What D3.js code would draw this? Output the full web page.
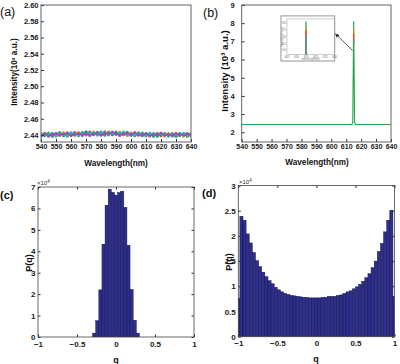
<!DOCTYPE html>
<html>
<head>
<meta charset="utf-8">
<script src="https://cdn.jsdelivr.net/npm/d3@7"></script>
<style>
    body { margin: 0; background: #fff; }
    svg { display: block; font-family: "Liberation Sans", Arial, sans-serif; }
</style>
</head>
<body>
<svg id="chart" width="400" height="364"></svg>
<script>
// ---------- data ----------
// (a) background spectra, 10^3 a.u., sampled every 2.5 nm from 540 to 640
const specWl = d3.range(540, 640.01, 2.5);
const bgS1 = [2.4392, 2.4421, 2.4398, 2.4415, 2.4387, 2.4426, 2.4401, 2.4419, 2.4395, 2.4432, 2.4408, 2.4427, 2.4399, 2.4436, 2.4412, 2.4430, 2.4405, 2.4439, 2.4416, 2.4428, 2.4409, 2.4434, 2.4402, 2.4425, 2.4397, 2.4421, 2.4404, 2.4418, 2.4389, 2.4416, 2.4398, 2.4423, 2.4391, 2.4414, 2.4396, 2.4419, 2.4388, 2.4412, 2.4393, 2.4417, 2.4390];
const bgS2 = [2.4418, 2.4390, 2.4411, 2.4384, 2.4420, 2.4396, 2.4424, 2.4393, 2.4429, 2.4401, 2.4422, 2.4395, 2.4433, 2.4406, 2.4425, 2.4399, 2.4437, 2.4410, 2.4431, 2.4403, 2.4426, 2.4400, 2.4429, 2.4396, 2.4420, 2.4392, 2.4417, 2.4390, 2.4413, 2.4395, 2.4419, 2.4386, 2.4411, 2.4393, 2.4416, 2.4388, 2.4414, 2.4391, 2.4418, 2.4387, 2.4409];
const bgS3 = [2.4401, 2.4410, 2.4383, 2.4419, 2.4405, 2.4393, 2.4428, 2.4409, 2.4412, 2.4397, 2.4435, 2.4414, 2.4420, 2.4402, 2.4438, 2.4418, 2.4424, 2.4408, 2.4441, 2.4420, 2.4415, 2.4431, 2.4411, 2.4398, 2.4427, 2.4408, 2.4396, 2.4424, 2.4402, 2.4410, 2.4392, 2.4421, 2.4404, 2.4389, 2.4418, 2.4400, 2.4395, 2.4415, 2.4386, 2.4404, 2.4412];
const bgS4 = [2.4386, 2.4403, 2.4425, 2.4397, 2.4412, 2.4430, 2.4391, 2.4421, 2.4404, 2.4426, 2.4394, 2.4418, 2.4441, 2.4411, 2.4403, 2.4433, 2.4415, 2.4396, 2.4427, 2.4412, 2.4438, 2.4405, 2.4419, 2.4434, 2.4401, 2.4413, 2.4429, 2.4398, 2.4420, 2.4405, 2.4384, 2.4414, 2.4399, 2.4420, 2.4392, 2.4408, 2.4385, 2.4419, 2.4402, 2.4389, 2.4416];
const bgS5 = [2.4410, 2.4395, 2.4407, 2.4423, 2.4391, 2.4414, 2.4405, 2.4386, 2.4423, 2.4414, 2.4399, 2.4430, 2.4408, 2.4421, 2.4429, 2.4404, 2.4419, 2.4432, 2.4400, 2.4425, 2.4407, 2.4418, 2.4436, 2.4410, 2.4415, 2.4393, 2.4411, 2.4426, 2.4395, 2.4425, 2.4412, 2.4397, 2.4418, 2.4407, 2.4385, 2.4413, 2.4404, 2.4396, 2.4421, 2.4410, 2.4394];
const bgS6 = [2.4397, 2.4414, 2.4389, 2.4406, 2.4418, 2.4399, 2.4413, 2.4427, 2.4397, 2.4406, 2.4419, 2.4404, 2.4415, 2.4393, 2.4417, 2.4424, 2.4398, 2.4421, 2.4413, 2.4436, 2.4417, 2.4395, 2.4415, 2.4421, 2.4406, 2.4431, 2.4400, 2.4409, 2.4417, 2.4387, 2.4406, 2.4403, 2.4425, 2.4397, 2.4409, 2.4394, 2.4422, 2.4405, 2.4397, 2.4419, 2.4401];
const bgColors = ["#e5372c", "#3a6fd3", "#f29a1d", "#27a346", "#25b4c6", "#9a4fb5"];

// (b) spectra with the 615 nm line, 10^3 a.u.
const peakWlCyan   = [540, 613.9, 614.5, 615.1, 615.7, 616.3, 640];
const peakCyan     = [2.43, 2.43, 2.52, 7.15, 2.52, 2.43, 2.43];
const peakWlRed    = [540, 613.7, 614.3, 614.9, 615.5, 616.1, 640];
const peakRed      = [2.43, 2.43, 2.52, 7.45, 2.52, 2.43, 2.43];
const peakWlOrange = [540, 613.9, 614.5, 615.1, 615.7, 616.3, 640];
const peakOrange   = [2.43, 2.43, 2.52, 7.65, 2.52, 2.43, 2.43];
const peakWlGreen  = [540, 613.8, 614.4, 615.0, 615.6, 616.2, 640];
const peakGreen    = [2.43, 2.43, 2.55, 8.1, 2.55, 2.43, 2.43];

const wlTicks = [540, 550, 560, 570, 580, 590, 600, 610, 620, 630, 640];
const aTicks = [2.44, 2.46, 2.48, 2.50, 2.52, 2.54, 2.56, 2.58, 2.60];
const bTicks = [2, 3, 4, 5, 6, 7, 8, 9];
const insetWlTicks = [605, 610, 615, 620, 625, 630];
const insetTicks = [6.0, 6.5, 7.0, 7.5, 8.0];

// (c) histogram, x10^4, bin centres -0.28 .. 0.28
const binsC = [-0.28, -0.24, -0.20, -0.16, -0.12, -0.08, -0.04, 0, 0.04, 0.08, 0.12, 0.16, 0.20, 0.24, 0.28];
const countsC = [0.18, 0.76, 2.2, 4.33, 6.15, 6.9, 6.75, 6.62, 6.74, 6.8, 6.05, 4.28, 2.22, 0.78, 0.18];
const cTicks = [0, 1, 2, 3, 4, 5, 6, 7];

// (d) histogram, x10^4, bin centres -1 .. 1 every 0.04
const binsD = d3.range(-1, 1.0001, 0.04);
const countsD = [0.76,
    2.39, 2.31, 2.04, 1.86, 1.67, 1.51, 1.39, 1.28, 1.19, 1.11, 1.05, 0.98, 0.93,
    0.89, 0.86, 0.84, 0.82, 0.81, 0.80, 0.79, 0.78, 0.78, 0.77, 0.77, 0.77,
    0.77, 0.78, 0.78, 0.80, 0.80, 0.80, 0.82, 0.83, 0.86, 0.89, 0.91, 0.95,
    0.99, 1.04, 1.10, 1.17, 1.25, 1.37, 1.50, 1.69, 1.85, 2.08, 2.31, 2.51,
    0.80];
const dTicks = [0, 0.5, 1, 1.5, 2, 2.5, 3];
const qTicks = [-1, -0.5, 0, 0.5, 1];

const BAR_FILL = "#2d2e8d";
const BAR_EDGE = "#12123f";

// ---------- helpers ----------
const svg = d3.select("#chart");
svg.append("rect").attr("width", 400).attr("height", 364).attr("fill", "#fff");

let clipId = 0;
const addClip = (x, y) => {
    const id = `clip${clipId++}`;
    const [x0, x1] = x.range();
    const [y0, y1] = y.range();
    svg.append("clipPath").attr("id", id)
        .append("rect")
        .attr("x", x0).attr("y", y1)
        .attr("width", x1 - x0).attr("height", y0 - y1);
    return `url(#${id})`;
};

const styleTicks = (g, size, weight) => {
    g.selectAll(".domain").remove();
    g.selectAll("text")
        .attr("font-size", size)
        .attr("font-weight", weight)
        .attr("fill", "#1a1a1a")
        .attr("font-family", "Liberation Sans, Arial, sans-serif");
    g.selectAll("line").attr("stroke", "#333");
};

// Origin style frame used for (a) and (b)
function originFrame(x, y, yTicks, yFmt, yPad) {
    const [x0, x1] = x.range();
    const [y0, y1] = y.range();
    svg.append("g")
        .attr("transform", `translate(0,${y0})`)
        .call(d3.axisBottom(x).tickValues(wlTicks).tickSize(-3).tickPadding(2).tickFormat(d3.format("d")))
        .call(g => styleTicks(g, 7, "bold"));
    svg.append("g")
        .attr("transform", `translate(${x0},0)`)
        .call(d3.axisLeft(y).tickValues(yTicks).tickSize(-3).tickPadding(yPad).tickFormat(yFmt))
        .call(g => styleTicks(g, 7.5, "bold"));
    svg.append("rect")
        .attr("x", x0).attr("y", y1)
        .attr("width", x1 - x0).attr("height", y0 - y1)
        .attr("fill", "none").attr("stroke", "#555").attr("stroke-width", 0.9);
}

// Matlab style frame used for (c) and (d)
function matlabFrame(x, y, yTicks, yFmt) {
    const [x0, x1] = x.range();
    const [y0, y1] = y.range();
    svg.append("g")
        .attr("transform", `translate(0,${y0})`)
        .call(d3.axisBottom(x).tickValues(qTicks).tickSize(-2.5).tickPadding(4).tickFormat(d3.format("")))
        .call(g => styleTicks(g, 8, "bold"));
    svg.append("g")
        .attr("transform", `translate(0,${y1})`)
        .call(d3.axisTop(x).tickValues(qTicks).tickSize(-2.5).tickFormat(""))
        .call(g => styleTicks(g, 8, "bold"));
    svg.append("g")
        .attr("transform", `translate(${x0},0)`)
        .call(d3.axisLeft(y).tickValues(yTicks).tickSize(-2.5).tickPadding(2.5).tickFormat(yFmt))
        .call(g => styleTicks(g, 8, "bold"));
    svg.append("g")
        .attr("transform", `translate(${x1},0)`)
        .call(d3.axisRight(y).tickValues(yTicks).tickSize(-2.5).tickFormat(""))
        .call(g => styleTicks(g, 8, "bold"));
    svg.append("rect")
        .attr("x", x0).attr("y", y1)
        .attr("width", x1 - x0).attr("height", y0 - y1)
        .attr("fill", "none").attr("stroke", "#444").attr("stroke-width", 0.8);
}

const label = (txt, x, y, size, weight, anchor = "start", rotate = 0) =>
    svg.append("text")
        .attr("transform", `translate(${x},${y}) rotate(${rotate})`)
        .attr("text-anchor", anchor)
        .attr("font-size", size)
        .attr("font-weight", weight)
        .attr("fill", "#111")
        .text(txt);

// ---------- (a) ----------
const xA = d3.scaleLinear().domain([540, 640]).range([41, 191]);
const yA = d3.scaleLinear().domain([2.4314, 2.60]).range([142, 5]);
const clipA = addClip(xA, yA);
const gA = svg.append("g").attr("clip-path", clipA);
[bgS1, bgS2, bgS3, bgS4, bgS5, bgS6].forEach((s, i) => {
    const line = d3.line().x((d, j) => xA(specWl[j])).y(d => yA(d));
    gA.append("path")
        .attr("d", line(s))
        .attr("fill", "none")
        .attr("stroke", bgColors[i])
        .attr("stroke-width", 1.3);
    gA.selectAll(null).data(s).join("circle")
        .attr("cx", (d, j) => xA(specWl[j]))
        .attr("cy", d => yA(d))
        .attr("r", 1.5)
        .attr("fill", bgColors[i]);
});
originFrame(xA, yA, aTicks, d3.format(".2f"), 2.5);
label("(a)", 0, 16, 12.5, "normal");
label("Wavelength(nm)", 116, 166, 8.2, "bold", "middle");
label("Intensity(10³ a.u.)", 17, 72, 8.2, "bold", "middle", -90);

// ---------- (b) ----------
const xB = d3.scaleLinear().domain([540, 640]).range([241.7, 391]);
const yB = d3.scaleLinear().domain([1.467, 9]).range([142, 5]);
const peakSets = [
    [peakWlGreen, peakGreen, "#27a346"],
    [peakWlOrange, peakOrange, "#f29a1d"],
    [peakWlRed, peakRed, "#e5372c"],
    [peakWlCyan, peakCyan, "#25b4c6"]
];
// green spectrum over the whole range, the others show only at the tip of the line
const gB = svg.append("g").attr("clip-path", addClip(xB, yB));
const gBtip = svg.append("g").attr("clip-path", addClip(xB, d3.scaleLinear().domain([6.9, 9]).range([yB(6.9), yB(9)])));
peakSets.forEach(([wl, v, c], i) => {
    const line = d3.line().x((d, j) => xB(wl[j])).y(d => yB(d));
    (i === 0 ? gB : gBtip).append("path")
        .attr("d", line(v))
        .attr("fill", "none")
        .attr("stroke", c)
        .attr("stroke-width", 1.1);
});
originFrame(xB, yB, bTicks, d3.format("d"), 7);
label("(b)", 203, 17, 12.5, "normal");
label("Wavelength(nm)", 317, 165, 8.2, "bold", "middle");
label("Intensity (10³ a.u.)", 228, 71, 9.6, "bold", "middle", -90);

// inset, placed in the (b) data space
const insetL = xB(566.3), insetR = xB(602.3), insetT = yB(8.4), insetB = yB(5.92);
svg.append("rect")
    .attr("x", insetL).attr("y", insetT)
    .attr("width", insetR - insetL).attr("height", insetB - insetT)
    .attr("fill", "#fff").attr("stroke", "#8a8a8a").attr("stroke-width", 0.9);
const xI = d3.scaleLinear().domain([605, 630]).range([insetL + 6, insetR]);
const yI = d3.scaleLinear().domain([5.7, 8.3]).range([insetB - 6.5, insetT + 3]);
const gI = svg.append("g").attr("clip-path", addClip(xI, yI));
peakSets.forEach(([wl, v, c]) => {
    const line = d3.line().x((d, j) => xI(wl[j])).y(d => yI(d));
    gI.append("path")
        .attr("d", line(v))
        .attr("fill", "none")
        .attr("stroke", c)
        .attr("stroke-width", 0.8);
});
svg.append("rect")
    .attr("x", xI.range()[0]).attr("y", yI.range()[1])
    .attr("width", xI.range()[1] - xI.range()[0]).attr("height", yI.range()[0] - yI.range()[1])
    .attr("fill", "none").attr("stroke", "#999").attr("stroke-width", 0.5);
svg.append("g").selectAll("text").data(insetWlTicks).join("text")
    .attr("x", d => xI(d)).attr("y", yI.range()[0] + 3.5)
    .attr("text-anchor", "middle").attr("font-size", 2.8).attr("fill", "#666")
    .text(d => d);
svg.append("g").selectAll("text").data(insetTicks).join("text")
    .attr("x", xI.range()[0] - 0.8).attr("y", d => yI(d) + 1)
    .attr("text-anchor", "end").attr("font-size", 2.8).attr("fill", "#666")
    .text(d => d.toFixed(1));
svg.append("text")
    .attr("x", (xI.range()[0] + xI.range()[1]) / 2).attr("y", insetB - 0.8)
    .attr("text-anchor", "middle").attr("font-size", 2.6).attr("fill", "#777")
    .text("wavelength(nm)");
svg.append("text")
    .attr("transform", `translate(${insetL + 2.4},${(yI.range()[0] + yI.range()[1]) / 2}) rotate(-90)`)
    .attr("text-anchor", "middle").attr("font-size", 2.6).attr("fill", "#777")
    .text("Intensity(10³ a.u.)");

// arrow from the peak to the inset
svg.append("defs").append("marker")
    .attr("id", "arrowHead")
    .attr("viewBox", "0 0 10 10")
    .attr("refX", 9).attr("refY", 5)
    .attr("markerWidth", 5).attr("markerHeight", 5)
    .attr("orient", "auto")
    .append("path").attr("d", "M0,0 L10,5 L0,10 z").attr("fill", "#333");
svg.append("line")
    .attr("x1", xB(614.2)).attr("y1", yB(6.5))
    .attr("x2", xB(602.8)).attr("y2", yB(7.42))
    .attr("stroke", "#333").attr("stroke-width", 0.8)
    .attr("marker-end", "url(#arrowHead)");

// ---------- (c) ----------
const xC = d3.scaleLinear().domain([-1, 1]).range([38, 194]);
const yC = d3.scaleLinear().domain([0, 7]).range([337, 187]);
svg.append("g").attr("clip-path", addClip(xC, yC))
    .selectAll("rect").data(countsC).join("rect")
    .attr("x", (d, i) => xC(binsC[i] - 0.02))
    .attr("width", (d, i) => xC(binsC[i] + 0.02) - xC(binsC[i] - 0.02))
    .attr("y", d => yC(d))
    .attr("height", d => yC(0) - yC(d))
    .attr("fill", BAR_FILL).attr("stroke", BAR_EDGE).attr("stroke-width", 0.45);
matlabFrame(xC, yC, cTicks, d3.format("d"));
label("(c)", 0, 199, 11, "bold");
label("q", 116, 363, 9, "bold", "middle");
label("P(q)", 32, 263, 9, "bold", "middle", -90);
svg.append("text").attr("x", 37).attr("y", 185).attr("font-size", 6).attr("fill", "#333")
    .text("×10").append("tspan").attr("dy", -2.5).attr("font-size", 4.5).text("4");

// ---------- (d) ----------
const xD = d3.scaleLinear().domain([-1, 1]).range([238.3, 394.5]);
const yD = d3.scaleLinear().domain([0, 3]).range([336.7, 185.5]);
svg.append("g").attr("clip-path", addClip(xD, yD))
    .selectAll("rect").data(countsD).join("rect")
    .attr("x", (d, i) => xD(binsD[i] - 0.02))
    .attr("width", (d, i) => xD(binsD[i] + 0.02) - xD(binsD[i] - 0.02))
    .attr("y", d => yD(d))
    .attr("height", d => yD(0) - yD(d))
    .attr("fill", BAR_FILL).attr("stroke", BAR_EDGE).attr("stroke-width", 0.45);
matlabFrame(xD, yD, dTicks, d3.format(""));
label("(d)", 202, 197, 11, "bold");
label("q", 316, 362, 9, "bold", "middle");
label("P(q)", 232, 262, 9, "bold", "middle", -90);
svg.append("text").attr("x", 239).attr("y", 184).attr("font-size", 6).attr("fill", "#333")
    .text("×10").append("tspan").attr("dy", -2.5).attr("font-size", 4.5).text("4");
</script>
</body>
</html>
